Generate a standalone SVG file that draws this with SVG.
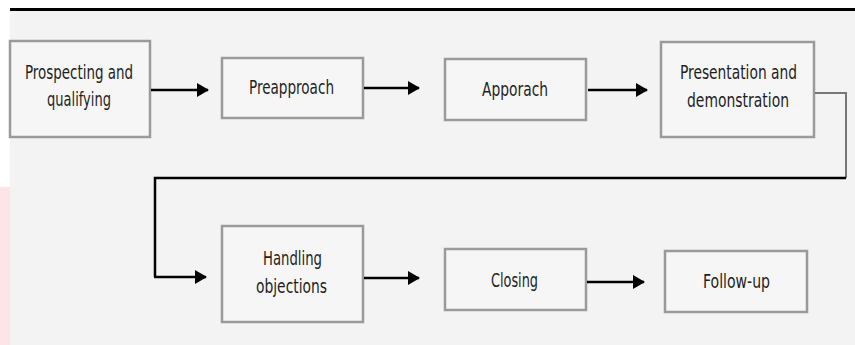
<svg xmlns="http://www.w3.org/2000/svg" width="855" height="345" viewBox="0 0 855 345">
<defs>
<marker id="ah" markerWidth="12" markerHeight="14" refX="11" refY="7" orient="auto" markerUnits="userSpaceOnUse">
<path d="M0,0 L12,7 L0,14 Z" fill="#000"/>
</marker>
<style>
.box{fill:#f6f6f6;stroke:#9a9a9a;stroke-width:2.5}
.lbl{font-family:"DejaVu Sans Condensed","DejaVu Sans",sans-serif;font-stretch:condensed;font-size:19px;fill:#1e1e1e;text-anchor:middle}
.arr{stroke:#000;stroke-width:2.5;fill:none}
</style>
</defs>
<rect x="0" y="0" width="855" height="345" fill="#ffffff"/>
<rect x="10" y="9" width="845" height="336" fill="#f3f3f3"/>
<rect x="0" y="187" width="10" height="158" fill="#fde4e6"/>
<line x1="10" y1="9.5" x2="855" y2="9.5" stroke="#000" stroke-width="3"/>
<g id="n1"><rect class="box" x="10" y="41" width="140" height="96"/><text class="lbl" x="79" y="79" textLength="108" lengthAdjust="spacingAndGlyphs">Prospecting and</text><text class="lbl" x="79" y="106" textLength="64" lengthAdjust="spacingAndGlyphs">qualifying</text></g>
<g id="n2"><rect class="box" x="222" y="58" width="141" height="60"/><text class="lbl" x="291.5" y="94" textLength="85" lengthAdjust="spacingAndGlyphs">Preapproach</text></g>
<g id="n3"><rect class="box" x="445" y="59" width="141" height="61"/><text class="lbl" x="515" y="96" textLength="66" lengthAdjust="spacingAndGlyphs">Apporach</text></g>
<g id="n4"><rect class="box" x="661" y="42" width="153" height="95"/><text class="lbl" x="738.5" y="79" textLength="117" lengthAdjust="spacingAndGlyphs">Presentation and</text><text class="lbl" x="738" y="107" textLength="102" lengthAdjust="spacingAndGlyphs">demonstration</text></g>
<g id="n5"><rect class="box" x="222" y="226" width="141" height="96"/><text class="lbl" x="292.5" y="265" textLength="59" lengthAdjust="spacingAndGlyphs">Handling</text><text class="lbl" x="291.5" y="293" textLength="71" lengthAdjust="spacingAndGlyphs">objections</text></g>
<g id="n6"><rect class="box" x="445" y="249" width="141" height="61"/><text class="lbl" x="514.5" y="287" textLength="47" lengthAdjust="spacingAndGlyphs">Closing</text></g>
<g id="n7"><rect class="box" x="665" y="251" width="142" height="61"/><text class="lbl" x="736.5" y="288" textLength="67" lengthAdjust="spacingAndGlyphs">Follow-up</text></g>
<g id="connectors">
<line class="arr" x1="151" y1="90" x2="208" y2="90" marker-end="url(#ah)"/>
<line class="arr" x1="364" y1="88" x2="419" y2="88" marker-end="url(#ah)"/>
<line class="arr" x1="588" y1="90" x2="647" y2="90" marker-end="url(#ah)"/>
<polyline fill="none" stroke="#777" stroke-width="2" points="815,93 846,93 846,178"/>
<polyline class="arr" stroke-width="2" points="846,178 155,178 155,277"/>
<line class="arr" x1="154" y1="277" x2="206" y2="277" marker-end="url(#ah)"/>
<line class="arr" x1="364" y1="278" x2="419" y2="278" marker-end="url(#ah)"/>
<line class="arr" x1="587" y1="282" x2="644" y2="282" marker-end="url(#ah)"/>
</g>
</svg>
